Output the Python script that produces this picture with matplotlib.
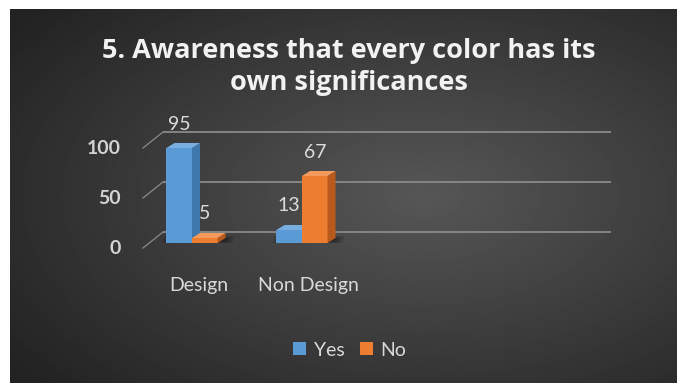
import numpy as np
import matplotlib
matplotlib.use('Agg')
import matplotlib.pyplot as plt
from matplotlib.patches import Polygon, Patch

categories = ["Design", "Non Design"]
series = ["Yes", "No"]
yes_vals = [95, 13]
no_vals = [5, 67]
yticks = [0, 50, 100]
title = "5. Awareness that every color has its\nown significances"

plt.rcParams['font.family'] = ['Lato', 'DejaVu Sans']

W, H = 677, 383
fig = plt.figure(figsize=(W / 100, H / 100), dpi=100)
fig.patch.set_facecolor('white')

# dark radial background (white margin on left/top like the screenshot)
bg = fig.add_axes([10 / W, 0, (W - 10) / W, (H - 9) / H])
yy, xx = np.mgrid[0:1:300j, 0:1:500j]
r = np.sqrt(((xx - 0.62) / 0.75) ** 2 + ((yy - 0.5) / 0.75) ** 2)
shade = np.clip(0.34 - 0.2 * r, 0.14, 0.34)
bg.imshow(shade, cmap='gray', vmin=0, vmax=1, aspect='auto',
          extent=[0, 1, 0, 1], origin='lower', interpolation='bilinear')
bg.axis('off')

# plot axes: 110 px per category, 1 px per unit
px = 110.0
xl = (149 - 192) / px
xr = (597 - 192) / px
ax = fig.add_axes([149 / W, 1 - 243 / H, (597 - 149) / W, 100 / H])
ax.set_xlim(xl, xr)
ax.set_ylim(0, 100)
ax.axis('off')

# 3d offsets
bdx, bdy = 14 / px, 11      # back wall
fdx, fdy = -6 / px, -5      # front edge
tdx, tdy = 8 / px, 5        # bar depth

grid_c = '#8a8a8a'
for v in yticks:
    ax.plot([xl + bdx, xr + bdx], [v + bdy, v + bdy], color=grid_c, lw=1.3,
            zorder=1, clip_on=False, solid_capstyle='butt')
    ax.plot([xl + fdx, xl + bdx], [v + fdy, v + bdy], color=grid_c, lw=0.9,
            zorder=1, clip_on=False)
    ax.text((121 - 192) / px, v - 6, str(v), ha='right', va='center',
            fontsize=14, fontweight='bold', color='#d4d4d4')

x = np.arange(len(categories))
w = 0.232
colors = {'Yes': ('#5b9bd5', '#78afe0', '#3f78ad'),
          'No': ('#ed7d31', '#f49a5c', '#b95a1d')}

# soft floor shadows
for i in x:
    for k in range(4):
        g = 0.025 * k
        sh = Polygon([(i - w - 0.04 + g, -1 + k), (i + w + tdx + 0.06 - g, -1 + k),
                      (i + w + tdx + 0.08 - g, tdy + 2 - k), (i - w - 0.02 + g, tdy + 2 - k)],
                     closed=True, facecolor='black', alpha=0.13, lw=0, zorder=2)
        ax.add_patch(sh)

for name, vals, off in [('Yes', yes_vals, -w / 2), ('No', no_vals, w / 2)]:
    front, top, side = colors[name]
    bars = ax.bar(x + off, vals, w, color=front, zorder=3, lw=0)
    for b, v in zip(bars, vals):
        x0, bw, h = b.get_x(), b.get_width(), b.get_height()
        ax.add_patch(Polygon([(x0 + bw, 0), (x0 + bw + tdx, tdy),
                              (x0 + bw + tdx, h + tdy), (x0 + bw, h)],
                             closed=True, facecolor=side, lw=0, zorder=3))
        ax.add_patch(Polygon([(x0, h), (x0 + tdx, h + tdy),
                              (x0 + bw + tdx, h + tdy), (x0 + bw, h)],
                             closed=True, facecolor=top, lw=0, zorder=3))
        ax.text(x0 + bw / 2, h + 24, str(v), ha='center', va='center',
                fontsize=14, color='#dcdcdc', zorder=5)

for i, c in zip(x, categories):
    ax.text(i + 0.06, -42, c, ha='center', va='center', fontsize=14,
            color='#d9d9d9')

fig.text(349 / W, 1 - 67 / H, title, ha='center', va='center',
         fontsize=19.5, fontweight='bold', color='#f2f2f2', linespacing=1.3,
         family=['Open Sans', 'DejaVu Sans'])

handles = [Patch(facecolor=colors[s][0]) for s in series]
fig.legend(handles, series, loc='center', bbox_to_anchor=(350 / W, 1 - 350 / H),
           ncol=2, frameon=False, fontsize=14, labelcolor='#d9d9d9',
           handlelength=0.65, handleheight=0.65, handletextpad=0.4,
           columnspacing=0.8)

fig.savefig('out.png', dpi=100)
